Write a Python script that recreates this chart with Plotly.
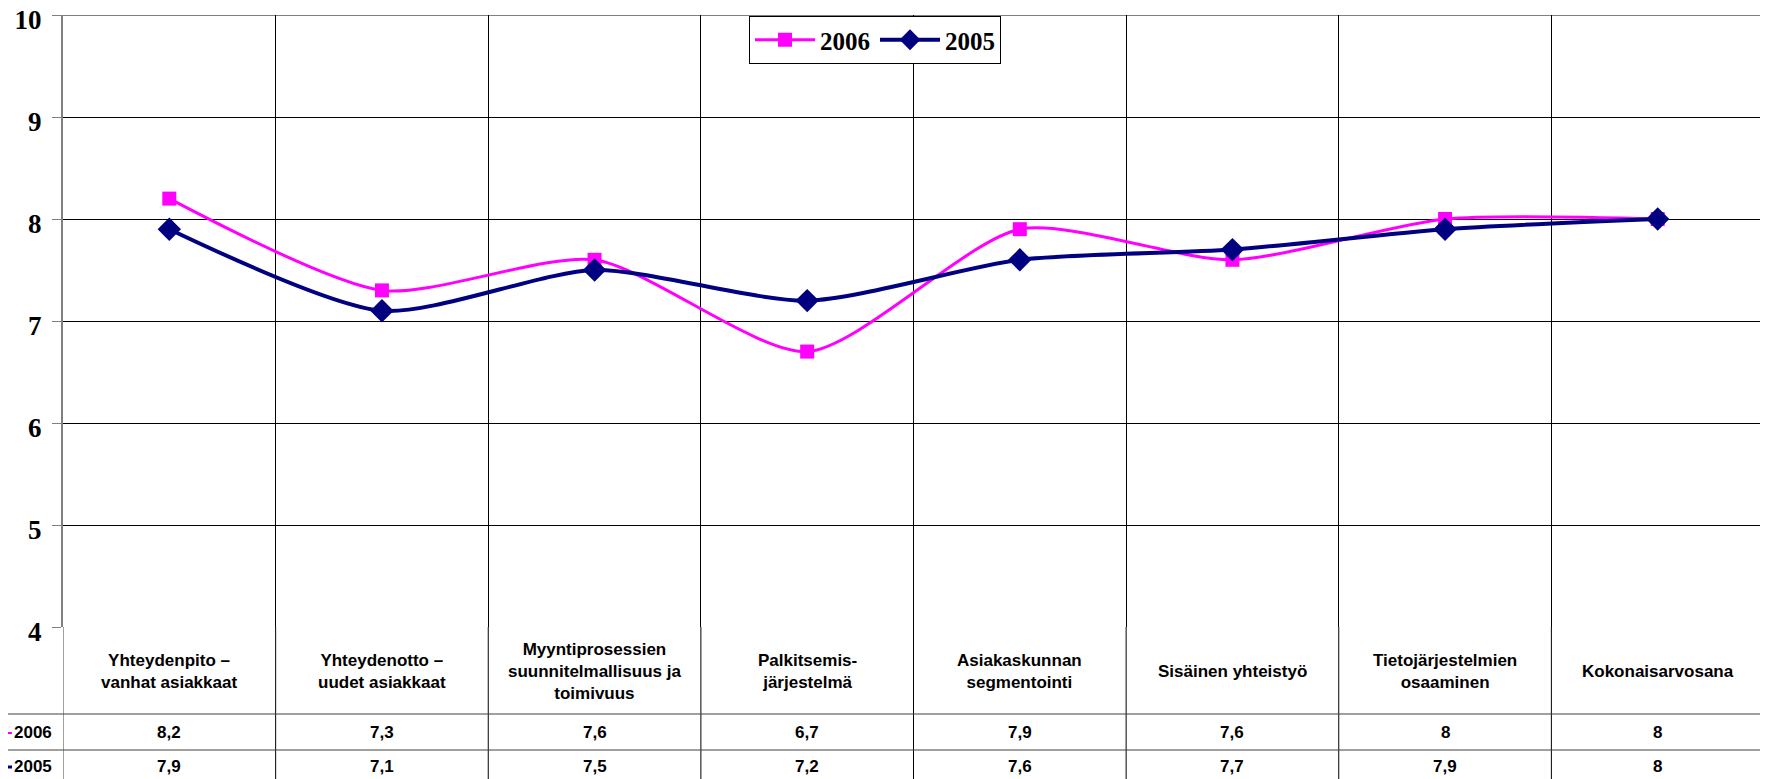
import plotly.graph_objects as go

categories = [
    "Yhteydenpito –<br>vanhat asiakkaat",
    "Yhteydenotto –<br>uudet asiakkaat",
    "Myyntiprosessien<br>suunnitelmallisuus ja<br>toimivuus",
    "Palkitsemis-<br>järjestelmä",
    "Asiakaskunnan<br>segmentointi",
    "Sisäinen yhteistyö",
    "Tietojärjestelmien<br>osaaminen",
    "Kokonaisarvosana",
]
series_names = ["2006", "2005"]
values_2006 = [8.2, 7.3, 7.6, 6.7, 7.9, 7.6, 8, 8]
values_2005 = [7.9, 7.1, 7.5, 7.2, 7.6, 7.7, 7.9, 8]
y_ticks = [4, 5, 6, 7, 8, 9, 10]

OFF = 8  # default body margin of the page
W, H = 1768 - OFF, 779 - OFF
# screen-pixel layout of plot area: x 63..1764, y 15..627
L, R, T, B = 63 - OFF, 4, 15 - OFF, 779 - 627
plot_h = H - T - B
plot_w = W - L - R

def py(pix):
    # screen pixel y -> paper y
    return (627 - pix) / plot_h

def px(pix):
    return (pix - 63) / plot_w

xpos = [i + 0.5 for i in range(len(categories))]

fig = go.Figure()
fig.add_trace(go.Scatter(
    x=xpos, y=values_2006, name=series_names[0], mode="lines+markers",
    line=dict(color="#FF00FF", width=3, shape="spline", smoothing=0.7),
    marker=dict(symbol="square", size=14, color="#FF00FF"),
))
fig.add_trace(go.Scatter(
    x=xpos, y=values_2005, name=series_names[1], mode="lines+markers",
    line=dict(color="#000080", width=4, shape="spline", smoothing=0.7),
    marker=dict(symbol="diamond", size=18, color="#000080"),
))

shapes = []
# top border line (value 10)
shapes.append(dict(type="line", xref="x", yref="y", x0=0, x1=8, y0=10, y1=10,
                   line=dict(color="#000000", width=1)))
# vertical lines through the table
for k in range(len(categories) + 1):
    shapes.append(dict(type="line", xref="x", yref="paper", x0=k, x1=k,
                       y0=0, y1=py(790),
                       line=dict(color="#808080" if k == 0 else "#000000", width=1.5 if k == 0 else 1)))
# horizontal table lines
for yy in [714, 750]:
    shapes.append(dict(type="line", xref="paper", yref="paper", x0=px(OFF), x1=1,
                       y0=py(yy), y1=py(yy), line=dict(color="#404040", width=1)))
# row label keys
shapes.append(dict(type="line", xref="paper", yref="paper", x0=px(OFF), x1=px(OFF + 4),
                   y0=py(733), y1=py(733), line=dict(color="#FF00FF", width=2)))
shapes.append(dict(type="line", xref="paper", yref="paper", x0=px(OFF), x1=px(OFF + 4),
                   y0=py(767), y1=py(767), line=dict(color="#000080", width=3)))

tfont = dict(family="Liberation Sans, Arial, sans-serif", size=17, color="#000000", weight="bold")

def fmt(v):
    s = ("%g" % v)
    return s.replace(".", ",")

annotations = []
for i, c in enumerate(categories):
    annotations.append(dict(x=xpos[i], xref="x", y=py(671), yref="paper", text=c,
                            showarrow=False, font=tfont, align="center",
                            xanchor="center", yanchor="middle"))
    annotations.append(dict(x=xpos[i], xref="x", y=py(732), yref="paper", text=fmt(values_2006[i]),
                            showarrow=False, font=tfont, xanchor="center", yanchor="middle"))
    annotations.append(dict(x=xpos[i], xref="x", y=py(766), yref="paper", text=fmt(values_2005[i]),
                            showarrow=False, font=tfont, xanchor="center", yanchor="middle"))
for name, yy in zip(series_names, [732, 766]):
    annotations.append(dict(x=px(OFF + 4), xref="paper", y=py(yy), yref="paper", text=name,
                            showarrow=False, font=tfont, xanchor="left", yanchor="middle"))

fig.update_layout(
    width=W, height=H,
    margin=dict(l=L, r=R, t=T, b=B, autoexpand=False),
    paper_bgcolor="white", plot_bgcolor="white",
    showlegend=True,
    legend=dict(orientation="h", x=px(749), y=py(16), xanchor="left", yanchor="top",
                bordercolor="#000000", borderwidth=1, bgcolor="white",
                font=dict(family="Liberation Serif, Times New Roman, serif", size=25,
                          color="#000000", weight="bold"),
                itemwidth=60, tracegroupgap=0),
    xaxis=dict(range=[0, 8], tickvals=list(range(9)), showticklabels=False,
               showgrid=True, gridcolor="#000000", gridwidth=1, ticks="",
               zeroline=False, showline=False, fixedrange=True, automargin=False),
    yaxis=dict(range=[4, 10], tickvals=y_ticks, showgrid=True, gridcolor="#000000", gridwidth=1,
               ticks="outside", ticklen=9, tickcolor="#808080", tickwidth=1,
               showline=True, linecolor="#808080", linewidth=2,
               ticklabelstandoff=5, ticklabeloverflow="allow", ticklabelshift=5,
               tickfont=dict(family="Liberation Serif, Times New Roman, serif", size=27,
                             color="#000000", weight="bold"),
               zeroline=False, fixedrange=True, automargin=False),
    shapes=shapes, annotations=annotations,
)

fig.write_html("out.html")
